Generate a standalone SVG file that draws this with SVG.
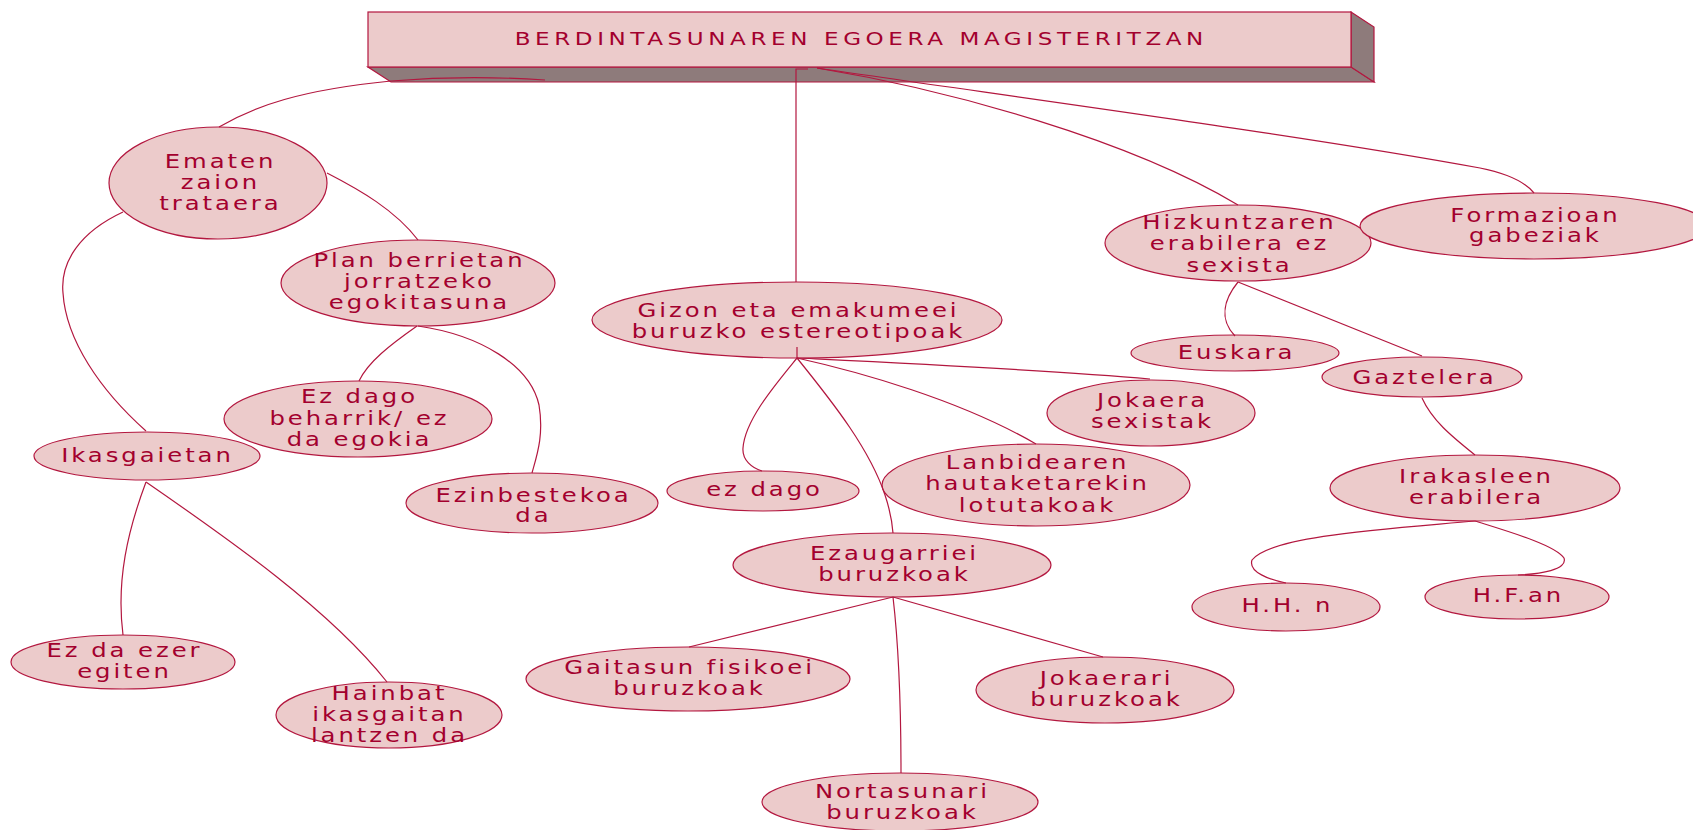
<svg xmlns="http://www.w3.org/2000/svg" width="1693" height="830" viewBox="0 0 1693 830">
<style>
.n ellipse{fill:#ECCBCB;stroke:#B3173F;stroke-width:1.2}
.n text{font-family:"DejaVu Sans",Verdana,sans-serif;font-size:19px;fill:#A3002E;text-anchor:middle;letter-spacing:2.3px}
#connectors path{fill:none;stroke:#B3173F;stroke-width:1.2}
.front{fill:#ECCBCB;stroke:#B3173F;stroke-width:1.2}
.side{fill:#8E7B7B;stroke:#B3173F;stroke-width:1.2}
.title{font-family:"DejaVu Sans",Verdana,sans-serif;font-size:18px;fill:#A3002E;text-anchor:middle;letter-spacing:3.6px}
</style>
<rect width="1693" height="830" fill="#FFFFFF"/>
<g id="title">
<polygon class="side" points="368,67 1351,67 1374,82 391,82"/>
<polygon class="side" points="1351,12 1374,27 1374,82 1351,67"/>
<rect class="front" x="368" y="12" width="983" height="55"/>
<g transform="translate(859 0) scale(1.28 1)"><text class="title" x="1.8" y="45">BERDINTASUNAREN EGOERA MAGISTERITZAN</text></g>
</g>
<g id="n-ematen" class="n"><ellipse cx="218" cy="183" rx="109" ry="56"/><g transform="translate(219 0) scale(1.28 1)"><text x="1.15" y="168">Ematen</text><text x="1.15" y="189">zaion</text><text x="1.15" y="210">trataera</text></g></g>
<g id="n-plan" class="n"><ellipse cx="418" cy="283" rx="137" ry="43"/><g transform="translate(418 0) scale(1.28 1)"><text x="1.15" y="267">Plan berrietan</text><text x="1.15" y="288">jorratzeko</text><text x="1.15" y="309">egokitasuna</text></g></g>
<g id="n-ezdago-beharrik" class="n"><ellipse cx="358" cy="419" rx="134" ry="38"/><g transform="translate(358 0) scale(1.28 1)"><text x="1.15" y="403">Ez dago</text><text x="1.15" y="425">beharrik/ ez</text><text x="1.15" y="446">da egokia</text></g></g>
<g id="n-ezinbestekoa" class="n"><ellipse cx="532" cy="503" rx="126" ry="30"/><g transform="translate(532 0) scale(1.28 1)"><text x="1.15" y="502">Ezinbestekoa</text><text x="1.15" y="522">da</text></g></g>
<g id="n-ikasgaietan" class="n"><ellipse cx="147" cy="456" rx="113" ry="24"/><g transform="translate(146 0) scale(1.28 1)"><text x="1.15" y="462">Ikasgaietan</text></g></g>
<g id="n-ezdaezer" class="n"><ellipse cx="123" cy="662" rx="112" ry="27"/><g transform="translate(123 0) scale(1.28 1)"><text x="1.15" y="657">Ez da ezer</text><text x="1.15" y="678">egiten</text></g></g>
<g id="n-hainbat" class="n"><ellipse cx="389" cy="715" rx="113" ry="33"/><g transform="translate(388 0) scale(1.28 1)"><text x="1.15" y="700">Hainbat</text><text x="1.15" y="721">ikasgaitan</text><text x="1.15" y="742">lantzen da</text></g></g>
<g id="n-gizon" class="n"><ellipse cx="797" cy="320" rx="205" ry="38"/><g transform="translate(797 0) scale(1.28 1)"><text x="1.15" y="317">Gizon eta emakumeei</text><text x="1.15" y="338">buruzko estereotipoak</text></g></g>
<g id="n-ezdago" class="n"><ellipse cx="763" cy="491" rx="96" ry="20"/><g transform="translate(763 0) scale(1.28 1)"><text x="1.15" y="496">ez dago</text></g></g>
<g id="n-lanbidearen" class="n"><ellipse cx="1036" cy="485" rx="154" ry="41"/><g transform="translate(1036 0) scale(1.28 1)"><text x="1.15" y="469">Lanbidearen</text><text x="1.15" y="490">hautaketarekin</text><text x="1.15" y="512">lotutakoak</text></g></g>
<g id="n-jokaera" class="n"><ellipse cx="1151" cy="413" rx="104" ry="33"/><g transform="translate(1151 0) scale(1.28 1)"><text x="1.15" y="407">Jokaera</text><text x="1.15" y="428">sexistak</text></g></g>
<g id="n-ezaugarriei" class="n"><ellipse cx="892" cy="565" rx="159" ry="32"/><g transform="translate(893 0) scale(1.28 1)"><text x="1.15" y="560">Ezaugarriei</text><text x="1.15" y="581">buruzkoak</text></g></g>
<g id="n-gaitasun" class="n"><ellipse cx="688" cy="679" rx="162" ry="32"/><g transform="translate(688 0) scale(1.28 1)"><text x="1.15" y="674">Gaitasun fisikoei</text><text x="1.15" y="695">buruzkoak</text></g></g>
<g id="n-jokaerari" class="n"><ellipse cx="1105" cy="690" rx="129" ry="33"/><g transform="translate(1105 0) scale(1.28 1)"><text x="1.15" y="685">Jokaerari</text><text x="1.15" y="706">buruzkoak</text></g></g>
<g id="n-nortasunari" class="n"><ellipse cx="900" cy="802" rx="138" ry="29"/><g transform="translate(901 0) scale(1.28 1)"><text x="1.15" y="798">Nortasunari</text><text x="1.15" y="819">buruzkoak</text></g></g>
<g id="n-hizkuntzaren" class="n"><ellipse cx="1238" cy="243" rx="133" ry="38"/><g transform="translate(1238 0) scale(1.28 1)"><text x="1.15" y="229">Hizkuntzaren</text><text x="1.15" y="250">erabilera ez</text><text x="1.15" y="272">sexista</text></g></g>
<g id="n-formazioan" class="n"><ellipse cx="1534" cy="226" rx="174" ry="33"/><g transform="translate(1534 0) scale(1.28 1)"><text x="1.15" y="222">Formazioan</text><text x="1.15" y="242">gabeziak</text></g></g>
<g id="n-euskara" class="n"><ellipse cx="1235" cy="353" rx="104" ry="18"/><g transform="translate(1235 0) scale(1.28 1)"><text x="1.15" y="359">Euskara</text></g></g>
<g id="n-gaztelera" class="n"><ellipse cx="1422" cy="377" rx="100" ry="20"/><g transform="translate(1423 0) scale(1.28 1)"><text x="1.15" y="384">Gaztelera</text></g></g>
<g id="n-irakasleen" class="n"><ellipse cx="1475" cy="488" rx="145" ry="33"/><g transform="translate(1475 0) scale(1.28 1)"><text x="1.15" y="483">Irakasleen</text><text x="1.15" y="504">erabilera</text></g></g>
<g id="n-hhn" class="n"><ellipse cx="1286" cy="607" rx="94" ry="24"/><g transform="translate(1286 0) scale(1.28 1)"><text x="1.15" y="612">H.H. n</text></g></g>
<g id="n-hfan" class="n"><ellipse cx="1517" cy="597" rx="92" ry="22"/><g transform="translate(1517 0) scale(1.28 1)"><text x="1.15" y="602">H.F.an</text></g></g>
<g id="connectors">
<path d="M219,127 C255,106 300,90 391,81 C440,77 500,77 545,80"/>
<path d="M808,69 L796,69 L796,282"/>
<path d="M817,68 C950,90 1130,140 1238,205"/>
<path d="M817,68 C1000,95 1300,135 1480,168 C1510,174 1525,182 1534,193"/>
<path d="M327,173 C360,190 395,210 418,240"/>
<path d="M123,212 C80,232 60,262 63,293 C66,340 100,390 146,431"/>
<path d="M417,326 C390,345 368,362 359,381"/>
<path d="M418,326 C480,335 530,365 539,405 C544,435 537,455 532,473"/>
<path d="M146,482 C128,530 116,580 123,635"/>
<path d="M146,482 C230,540 330,610 387,682"/>
<path d="M797,347 L797,358"/>
<path d="M797,358 C775,385 745,420 743,448 C742,460 752,468 762,471"/>
<path d="M797,358 C835,405 870,450 885,495 C890,510 892,520 893,533"/>
<path d="M797,358 C860,372 960,400 1036,444"/>
<path d="M797,358 C900,363 1050,370 1150,379"/>
<path d="M893,597 L689,647"/>
<path d="M893,597 C898,640 901,700 901,773"/>
<path d="M893,597 L1103,657"/>
<path d="M1238,282 C1225,298 1218,318 1235,336"/>
<path d="M1238,282 L1422,356"/>
<path d="M1422,398 C1432,420 1450,435 1475,455"/>
<path d="M1475,521 C1400,528 1270,535 1252,560 C1248,572 1270,580 1286,583"/>
<path d="M1475,521 C1510,532 1555,545 1564,558 C1568,570 1540,574 1518,575"/>
</g>
</svg>
